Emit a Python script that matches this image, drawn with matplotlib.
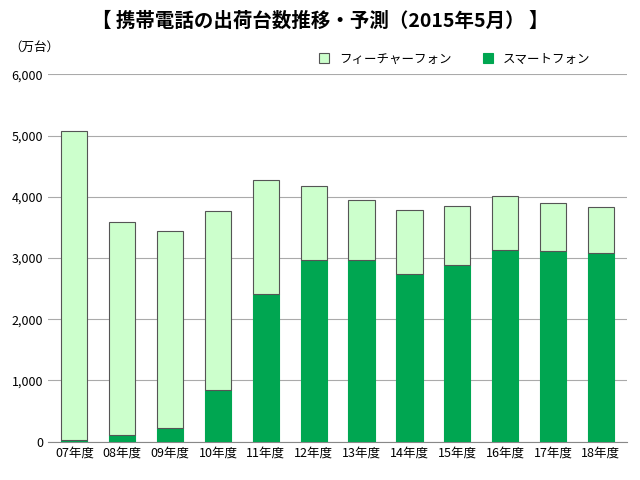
import numpy as np
import matplotlib.pyplot as plt

plt.rcParams['font.family'] = 'Noto Sans CJK JP'

# data
years = ['07年度', '08年度', '09年度', '10年度', '11年度', '12年度',
         '13年度', '14年度', '15年度', '16年度', '17年度', '18年度']
total = [5070, 3590, 3440, 3770, 4280, 4180, 3940, 3790, 3850, 4020, 3900, 3830]
smart = [20, 110, 230, 850, 2410, 2970, 2960, 2740, 2890, 3130, 3110, 3080]
feature = [t - s for t, s in zip(total, smart)]

fig = plt.figure(figsize=(6.4, 4.8), dpi=100)
ax = fig.add_axes([0.075, 0.08, 0.905, 0.765])

x = np.arange(len(years))
ax.bar(x, smart, width=0.55, color='#00a651', edgecolor='#00a651', linewidth=0.8,
       label='スマートフォン', zorder=3)
ax.bar(x, feature, width=0.55, bottom=smart, color='#ccffcc', edgecolor='#555555',
       linewidth=0.8, label='フィーチャーフォン', zorder=3)

ax.set_xlim(-0.55, len(years) - 0.45)
ax.set_ylim(0, 6000)
ax.set_yticks(range(0, 6001, 1000))
ax.set_yticklabels([f'{v:,}' for v in range(0, 6001, 1000)], fontsize=9)
ax.set_xticks(x)
ax.set_xticklabels(years, fontsize=9)
ax.yaxis.grid(True, color='#aaaaaa', linewidth=0.8, zorder=0)
ax.tick_params(length=0)
for s in ['top', 'right', 'left']:
    ax.spines[s].set_visible(False)
ax.spines['bottom'].set_color('#888888')

fig.text(0.015, 0.895, '（万台）', fontsize=9)
fig.text(0.5, 0.955, '【 携帯電話の出荷台数推移・予測（2015年5月） 】',
         fontsize=14, ha='center', va='center', fontweight='bold')

h, l = ax.get_legend_handles_labels()
fig.legend(h[::-1], l[::-1], loc='center', bbox_to_anchor=(0.71, 0.877), ncol=2,
           frameon=False, fontsize=9, handlelength=0.8, handleheight=0.8,
           columnspacing=2.5)

fig.savefig('out.png')
